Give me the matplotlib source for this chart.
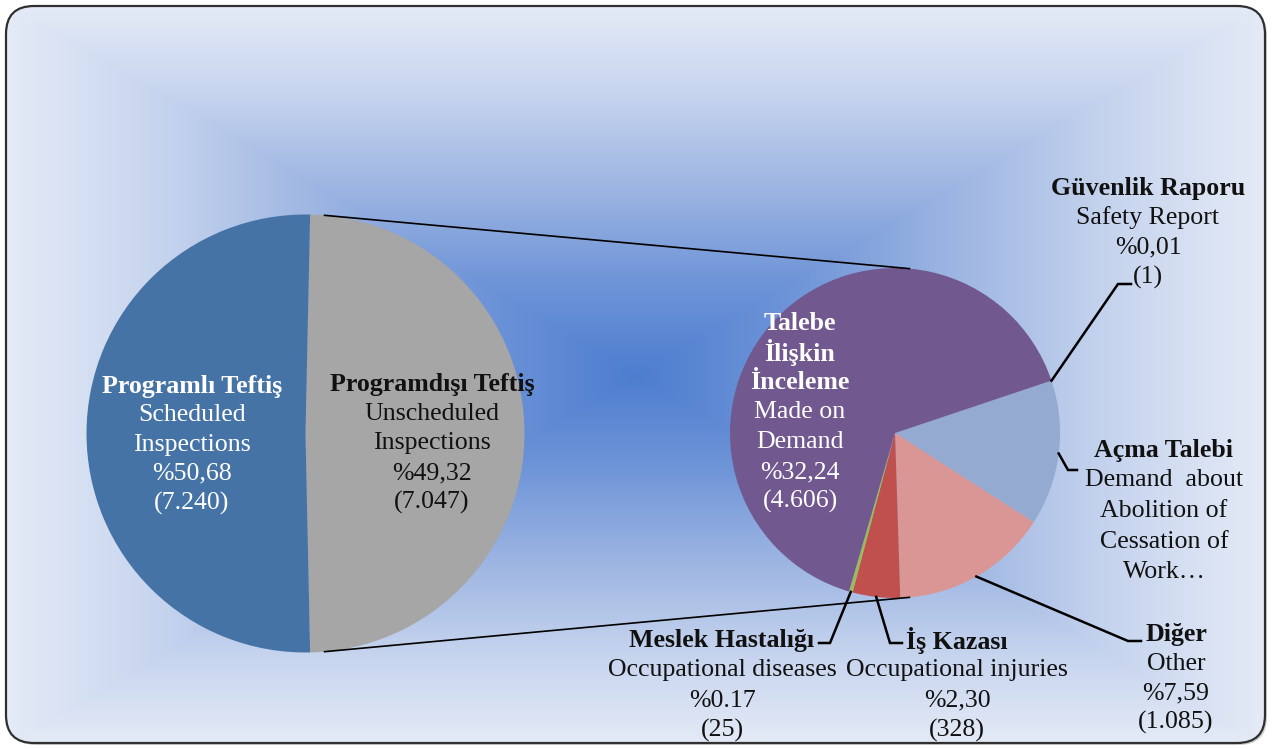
import numpy as np
import matplotlib
matplotlib.use("Agg")
import matplotlib.pyplot as plt
from matplotlib.patches import FancyBboxPatch
from matplotlib.colors import LinearSegmentedColormap

# ---------------- data ----------------
main_titles = ["Programdışı Teftiş", "Programlı Teftiş"]
main_subs = [["Unscheduled", "Inspections"], ["Scheduled", "Inspections"]]
main_counts = [7047, 7240]
main_pcts = ["%49,32", "%50,68"]
main_colors = ["#A6A6A6", "#4673A6"]

sub_titles = ["Güvenlik Raporu", "Açma Talebi", "Diğer", "İş Kazası",
              "Meslek Hastalığı", "Talebe\nİlişkin\nİnceleme"]
sub_subs = [["Safety Report"], ["Demand  about", "Abolition of", "Cessation of", "Work…"],
            ["Other"], ["Occupational injuries"], ["Occupational diseases"],
            ["Made on", "Demand"]]
sub_counts = [1, 1002, 1085, 328, 25, 4606]
sub_pcts = ["%0,01", None, "%7,59", "%2,30", "%0.17", "%32,24"]
sub_show_count = [True, False, True, True, True, True]
sub_colors = ["#4F81BD", "#95AAD0", "#D99694", "#C0504D", "#9BBB59", "#71588F"]

W, H = 1272, 749
def Y(y):
    return H - y

def fmt_count(n):
    return "(" + f"{n:,}".replace(",", ".") + ")"

FONT = "Liberation Serif"
FS = 18.6

fig = plt.figure(figsize=(W / 100, H / 100), dpi=100)
fig.patch.set_facecolor("white")
ax = fig.add_axes([0, 0, 1, 1])

# ---------------- background ----------------
shadow = FancyBboxPatch((8, Y(745)), 1259, 737, boxstyle="round,pad=0,rounding_size=28",
                        fc="#a0a0a0", ec="none", alpha=0.5, zorder=0)
ax.add_patch(shadow)
frame = FancyBboxPatch((6, Y(743)), 1259, 737, boxstyle="round,pad=0,rounding_size=28",
                       fc="none", ec="#303030", lw=1.6, zorder=6)
ax.add_patch(frame)
clip = FancyBboxPatch((6, Y(743)), 1259, 737, boxstyle="round,pad=0,rounding_size=28",
                      fc="none", ec="none")
ax.add_patch(clip)

xs = np.linspace(0, W, 636)
ys = np.linspace(0, H, 375)
XX, YY = np.meshgrid(xs, ys)
cx, cy = 636, 375
t = np.maximum(np.abs(XX - cx) / 636.0, np.abs(YY - cy) / 375.0)
cmap = LinearSegmentedColormap.from_list(
    "bg", [(0.0, "#4E7ECF"), (0.25, "#6F95D8"), (0.5, "#9DB5E2"),
           (0.75, "#C6D4EE"), (1.0, "#E6ECF7")])
im = ax.imshow(t, cmap=cmap, vmin=0, vmax=1, extent=[0, W, 0, H],
               origin="upper", interpolation="bilinear", zorder=1, aspect="auto")
im.set_clip_path(clip)

# ---------------- pies ----------------
c1 = (305.5, Y(433.5)); r1 = 219
c2 = (895.0, Y(433.0)); r2 = 165

gray_angle = 360.0 * main_counts[0] / sum(main_counts)
ax.pie(main_counts, colors=main_colors, startangle=-gray_angle / 2, counterclock=True,
       center=c1, radius=r1, wedgeprops=dict(linewidth=0, zorder=3), frame=True)

start2 = 18.5
ax.pie(sub_counts, colors=sub_colors, startangle=start2, counterclock=False,
       center=c2, radius=r2, wedgeprops=dict(linewidth=0, zorder=3), frame=True)

# connector lines between pies
for a in (85, -85):
    ar = np.deg2rad(a)
    p1 = (c1[0] + r1 * np.cos(ar), c1[1] + r1 * np.sin(ar))
    p2 = (c2[0] + r2 * np.cos(ar), c2[1] + r2 * np.sin(ar))
    ax.plot([p1[0], p2[0]], [p1[1], p2[1]], color="black", lw=1.2, zorder=4)

# mid angles of sub slices
tot2 = sum(sub_counts)
mids = []
acc = start2
for v in sub_counts:
    span = 360.0 * v / tot2
    mids.append(acc - span / 2)
    acc -= span

# ---------------- labels ----------------
def label(x, y0, title, subs, pct, count, color, step=29.5):
    lines = [(l, True) for l in title.split("\n")] + [(s, False) for s in subs]
    if pct:
        lines.append((pct, False))
    if count is not None:
        lines.append((fmt_count(count), False))
    for i, (txt, bold) in enumerate(lines):
        ax.text(x, Y(y0 + i * step), txt, ha="center", va="center", fontsize=FS,
                family=FONT, fontweight="bold" if bold else "normal",
                color=color, zorder=7)

# main pie labels
label(432, 384, main_titles[0], main_subs[0], main_pcts[0], main_counts[0], "#111111", step=29.7)
label(192, 386, main_titles[1], main_subs[1], main_pcts[1], main_counts[1], "white", step=29.3)

# sub pie labels
label_pos = [(1148, 188, 29.7), (1164, 450, 30.5), (1176, 634, 29.5),
             (957, 640, 30.3), (722, 640, 30.3), (800, 323, 29.8)]
for i, (lx, ly, st) in enumerate(label_pos):
    col = "white" if i == 5 else "#111111"
    label(lx, ly, sub_titles[i], sub_subs[i], sub_pcts[i],
          sub_counts[i] if sub_show_count[i] else None, col, step=st)

# leader lines: start on the slice edge at its mid angle, then elbow and end
leaders = {
    0: [(1118, 284), (1131, 284)],
    1: [(1068, 470), (1077, 470)],
    2: [(1128, 641), (1141, 641)],
    3: [(890, 643), (902, 643)],
    4: [(830, 643), (819, 643)],
}
for i, pts in leaders.items():
    ar = np.deg2rad(mids[i])
    sx, sy = c2[0] + r2 * np.cos(ar), c2[1] + r2 * np.sin(ar)
    px = [sx] + [p[0] for p in pts]
    py = [sy] + [Y(p[1]) for p in pts]
    ax.plot(px, py, color="black", lw=1.8, zorder=5, solid_joinstyle="miter")

ax.set_xlim(0, W)
ax.set_ylim(0, H)
ax.set_aspect("auto")
ax.axis("off")

fig.savefig("out.png", dpi=100, facecolor="white")
